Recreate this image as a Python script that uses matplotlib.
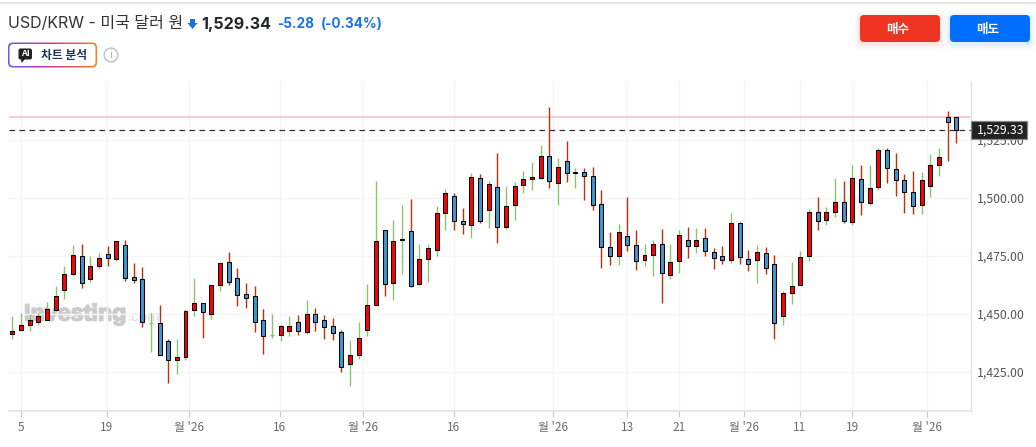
import matplotlib
matplotlib.use('Agg')
import matplotlib.pyplot as plt
from matplotlib.patches import FancyBboxPatch, Polygon, Circle, Rectangle
from matplotlib.transforms import blended_transform_factory
import matplotlib.patheffects as pe
import numpy as np

plt.rcParams['font.family'] = ['Noto Sans CJK KR', 'DejaVu Sans']

# daily USD/KRW candles
opens = [1441.3, 1443.0, 1444.9, 1446.2, 1447.4, 1451.4, 1460.4, 1467.2, 1474.7, 1464.8,
         1470.4, 1475.6, 1473.4, 1479.4, 1465.6, 1464.8, 1445.8, 1445.8, 1438.0, 1430.2,
         1431.5, 1451.4, 1454.4, 1449.7, 1462.2, 1472.1, 1465.2, 1458.3, 1457.4, 1447.1,
         1440.6, 1440.6, 1442.3, 1446.2, 1441.9, 1449.7, 1447.1, 1444.5, 1441.9, 1428.1,
         1432.0, 1442.8, 1453.6, 1485.9, 1463.0, 1481.6, 1485.5, 1462.6, 1473.4, 1477.3,
         1493.3, 1500.6, 1489.8, 1488.1, 1508.4, 1494.6, 1504.5, 1487.2, 1496.7, 1505.4,
         1508.0, 1508.4, 1517.9, 1506.2, 1515.7, 1510.5, 1511.0, 1509.2, 1497.2, 1478.6,
         1474.7, 1483.4, 1479.5, 1473.0, 1475.2, 1479.9, 1466.5, 1472.6, 1481.6, 1479.0,
         1482.5, 1476.5, 1474.7, 1473.0, 1489.0, 1473.4, 1473.0, 1476.0, 1471.3, 1448.8,
         1458.8, 1462.2, 1474.7, 1493.7, 1490.2, 1493.7, 1498.0, 1489.4, 1508.0, 1497.6,
         1504.5, 1520.4, 1512.2, 1507.5, 1502.3, 1496.7, 1504.9, 1514.0, 1534.7, 1534.7]
closes = [1442.3, 1444.9, 1447.1, 1448.8, 1451.8, 1457.4, 1466.9, 1475.1, 1463.0, 1470.4,
          1473.8, 1473.8, 1481.2, 1465.2, 1464.3, 1446.2, 1445.8, 1432.0, 1430.2, 1431.5,
          1451.0, 1454.4, 1450.5, 1462.2, 1471.7, 1463.5, 1457.9, 1456.6, 1446.2, 1440.2,
          1440.6, 1444.5, 1444.5, 1442.3, 1449.7, 1446.2, 1444.1, 1441.5, 1426.8, 1432.0,
          1439.7, 1453.6, 1481.2, 1462.6, 1481.2, 1482.0, 1461.8, 1473.4, 1478.2, 1493.3,
          1501.9, 1489.8, 1488.5, 1508.8, 1489.8, 1505.8, 1487.2, 1496.3, 1504.9, 1508.0,
          1508.8, 1517.9, 1507.1, 1513.1, 1510.5, 1511.0, 1509.2, 1496.7, 1478.6, 1474.7,
          1485.1, 1479.5, 1472.6, 1475.2, 1479.9, 1467.4, 1472.1, 1483.8, 1479.0, 1481.6,
          1476.9, 1473.9, 1473.0, 1489.0, 1474.3, 1471.3, 1476.5, 1469.5, 1445.8, 1458.8,
          1461.8, 1474.3, 1493.7, 1489.8, 1493.7, 1498.0, 1489.8, 1508.4, 1498.0, 1504.0,
          1520.4, 1512.7, 1507.5, 1502.3, 1496.3, 1507.5, 1514.0, 1517.4, 1532.5, 1529.33]
highs = [1448.9, 1450.1, 1449.7, 1450.7, 1455.0, 1461.9, 1470.5, 1479.6, 1480.0, 1474.8,
         1476.1, 1479.2, 1481.3, 1481.7, 1471.8, 1470.1, 1450.4, 1453.7, 1439.0, 1439.0,
         1452.0, 1465.3, 1454.4, 1462.2, 1472.1, 1476.6, 1469.7, 1463.2, 1461.9, 1452.0,
         1449.8, 1445.4, 1448.9, 1449.4, 1455.9, 1452.4, 1449.4, 1448.1, 1442.9, 1438.6,
         1446.4, 1462.8, 1507.2, 1485.9, 1490.4, 1496.9, 1499.5, 1480.0, 1480.0, 1496.4,
         1503.8, 1501.9, 1495.6, 1510.7, 1510.3, 1507.2, 1519.3, 1505.1, 1506.8, 1511.6,
         1515.4, 1522.8, 1539.2, 1517.2, 1524.5, 1512.9, 1512.9, 1513.3, 1503.4, 1485.2,
         1488.7, 1500.3, 1486.1, 1480.0, 1481.8, 1486.5, 1480.0, 1486.1, 1487.4, 1487.0,
         1487.0, 1478.3, 1479.2, 1493.4, 1489.4, 1477.5, 1479.6, 1478.8, 1475.3, 1459.6,
         1472.3, 1477.0, 1495.2, 1500.3, 1496.0, 1508.5, 1507.2, 1514.1, 1514.1, 1514.1,
         1521.4, 1521.4, 1519.3, 1510.2, 1511.6, 1511.1, 1518.9, 1521.4, 1537.4, 1534.7]
lows = [1439.2, 1442.6, 1442.5, 1445.1, 1447.2, 1451.1, 1456.3, 1466.2, 1461.2, 1463.8,
        1469.4, 1470.5, 1472.7, 1464.1, 1463.2, 1444.3, 1433.4, 1432.0, 1420.0, 1423.9,
        1430.0, 1449.1, 1439.5, 1447.7, 1459.7, 1462.3, 1453.3, 1452.4, 1442.1, 1432.6,
        1439.5, 1438.2, 1440.3, 1440.8, 1441.2, 1442.5, 1439.0, 1438.6, 1424.8, 1418.8,
        1430.4, 1440.3, 1453.6, 1457.6, 1455.9, 1467.1, 1461.6, 1462.2, 1463.6, 1474.8,
        1486.1, 1486.1, 1484.4, 1482.6, 1489.1, 1487.0, 1480.5, 1486.5, 1490.4, 1502.1,
        1503.4, 1508.1, 1504.2, 1496.9, 1506.8, 1504.2, 1499.0, 1494.7, 1469.7, 1471.0,
        1471.0, 1477.0, 1468.8, 1470.6, 1466.2, 1454.6, 1464.9, 1467.5, 1474.0, 1476.2,
        1474.9, 1469.3, 1471.4, 1471.8, 1471.4, 1468.4, 1463.2, 1467.1, 1439.0, 1445.1,
        1454.2, 1462.2, 1472.7, 1486.1, 1488.2, 1491.7, 1489.1, 1488.2, 1492.5, 1496.9,
        1503.4, 1506.3, 1500.7, 1493.4, 1493.0, 1493.0, 1500.3, 1509.4, 1515.9, 1523.6]

last_price = 1529.33
day_high_line = 1535.0
price_ticks = [1425, 1450, 1475, 1500, 1525]
date_pos = [0.95, 10.9, 20.4, 30.9, 40.5, 51.0, 62.4, 71.0, 77.0, 84.5, 90.9, 97.0, 105.6]
date_labels = ['5', '19', "월 '26", '16', "월 '26", '16', "월 '26", '13', '21', "월 '26", '11', '19', "월 '26"]

W, H = 1036, 447
fig = plt.figure(figsize=(W / 100, H / 100), dpi=100, facecolor='white')

# header widgets live on a pixel-sized layer behind the chart
bg = fig.add_axes([0, 0, 1, 1], zorder=0)
bg.axis('off')

# gradient border of the AI button
g = np.linspace(0, 1, 90)[:, None]
c1, c2, c3 = np.array([0.36, 0.36, 0.95]), np.array([0.85, 0.2, 0.55]), np.array([1.0, 0.5, 0.1])
rgb = np.where(g < 0.5, c1 + (c2 - c1) * g * 2, c2 + (c3 - c2) * (g - 0.5) * 2)
im = bg.imshow(rgb[None, :, :], extent=[7.5, 97.5, 68, 42], aspect='auto', zorder=1)
border = FancyBboxPatch((8, 42.5), 89, 25, boxstyle='round,pad=0,rounding_size=5', fc='none', ec='none')
bg.add_patch(border)
im.set_clip_path(border)
bg.add_patch(FancyBboxPatch((9.5, 44), 86, 22, boxstyle='round,pad=0,rounding_size=4', fc='white', ec='none', zorder=2))

bg.set_xlim(0, W)
bg.set_ylim(H, 0)

bg.plot([0, W], [2.5, 2.5], color='#e2e2e2', lw=1.2)

head_font = ['Inter', 'Noto Sans CJK KR', 'DejaVu Sans']
bg.text(8, 24, 'USD/KRW - 미국 달러 원', fontsize=11.5, color='#333333', family=head_font, va='center')
bg.add_patch(Polygon([[190, 19], [195, 19], [195, 23], [197.5, 23], [192.5, 29], [187.5, 23], [190, 23]],
                     fc='#1a6fd8', ec='none'))
bg.text(201.5, 24, '1,529.34', fontsize=11.6, color='#232526', family=head_font, fontweight='bold', va='center')
bg.text(277, 24, '-5.28', fontsize=9.8, color='#1a73e8', family=head_font, fontweight='bold', va='center')
bg.text(320.5, 24, '(-0.34%)', fontsize=9.8, color='#1a73e8', family=head_font, fontweight='bold', va='center')

# buy / sell buttons with a soft glow underneath
for x0, col, label in [(860, '#ee3524', '매수'), (950, '#006fff', '매도')]:
    for grow, alpha in [(6, 0.025), (4, 0.035), (2, 0.05)]:
        bg.add_patch(FancyBboxPatch((x0 - grow, 15 - grow + 2), 80 + 2 * grow, 27 + 2 * grow,
                                    boxstyle='round,pad=0,rounding_size=6', fc=col, ec='none', alpha=alpha))
    bg.add_patch(FancyBboxPatch((x0, 15), 80, 27, boxstyle='round,pad=0,rounding_size=4', fc=col, ec='none'))
    bg.text(x0 + 38, 29, label, color='white', fontsize=9, fontweight='bold', ha='center', va='center')

# AI badge and info icon
bg.add_patch(FancyBboxPatch((18.5, 48.5), 13.5, 11, boxstyle='round,pad=0,rounding_size=2', fc='#222222', ec='none', zorder=3))
bg.add_patch(Polygon([[21, 59], [25, 59], [21.5, 63]], fc='#222222', ec='none', zorder=3))
bg.text(25.2, 54, 'AI', color='white', fontsize=6.5, fontweight='bold', ha='center', va='center', zorder=4)
bg.text(64.5, 55, '차트 분석', color='#1c3557', fontsize=8.5, fontweight='bold', ha='center', va='center', zorder=4)
bg.add_patch(Circle((111, 55), 6.8, fc='white', ec='#c4c4c4', lw=1.1))
bg.text(111, 55, 'i', color='#b4b4b4', fontsize=8, ha='center', va='center')

# watermark
mark = bg.text(24, 314, 'Investing', color='#cbcbcb', fontsize=16.8, fontweight='bold', family='Liberation Sans', va='center')
mark.set_path_effects([pe.withStroke(linewidth=1.2, foreground='#cbcbcb')])
bg.add_patch(Rectangle((92, 303), 3.5, 3.5, fc='#fbd9a8', ec='none'))
bg.text(128, 317, '.com', color='#dddddd', fontsize=11, family='Liberation Sans', va='center')

# candles
ax = fig.add_axes([9 / W, 1 - 411 / H, (971 - 9) / W, (411 - 82) / H], zorder=1)
ax.patch.set_alpha(0)
x = np.arange(len(opens))
opens_a, closes_a = np.array(opens), np.array(closes)
highs_a, lows_a = np.array(highs), np.array(lows)
up = closes_a >= opens_a

ax.vlines(x[up], lows_a[up], highs_a[up], color='#8cc46e', lw=1.0, zorder=3)
ax.vlines(x[~up], lows_a[~up], highs_a[~up], color='#bd3008', lw=1.0, zorder=3)

flat = closes_a == opens_a
ax.hlines(closes_a[flat], x[flat] - 0.25, x[flat] + 0.25, color='#8cc46e', lw=1.0, zorder=3)

solid = ~flat
ax.bar(x[solid], (closes_a - opens_a)[solid], bottom=opens_a[solid], width=0.46,
       color=np.where(up[solid], '#ff0000', '#3f94d2'), edgecolor='black', linewidth=0.75, zorder=4)

ax.set_xlim(-0.38, 110.7)
ax.set_ylim(1408.0, 1549.9)

ax.grid(True, color='#f4f5f8', lw=1.0, zorder=0)
ax.set_axisbelow(True)
ax.axhline(day_high_line, color='#fbc8c8', lw=1.3, zorder=2)
ax.axhline(last_price, color='#333333', lw=0.9, dashes=(4.5, 3.5), zorder=2)

ax.set_xticks(date_pos)
ax.set_xticklabels(date_labels)
ax.yaxis.tick_right()
ax.set_yticks(price_ticks)
ax.set_yticklabels([f'{p:,.2f}' for p in price_ticks])
ax.tick_params(axis='x', length=4, width=0.8, color='#c8ccd6', labelsize=8.5, labelcolor='#6b6b6b', pad=3)
ax.tick_params(axis='y', length=0, labelsize=8.8, labelcolor='#555555', pad=4)

for side in ['top', 'left']:
    ax.spines[side].set_visible(False)
ax.spines['right'].set_color('#e0e3eb')
ax.spines['bottom'].set_color('#e0e3eb')
ax.spines['bottom'].set_linewidth(1.2)
ax.spines['right'].set_linewidth(1.0)

# last price tag on the price scale
tag_trans = blended_transform_factory(ax.transAxes, ax.transData)
ax.add_patch(Rectangle((1.0005, last_price - 3.9), 56 / 962, 7.8, transform=tag_trans, fc='#222222', ec='#888888',
                       lw=0.9, clip_on=False, zorder=9))
ax.annotate(f'{last_price:,.2f}', xy=(1, last_price), xycoords=('axes fraction', 'data'),
            xytext=(4.2, 0), textcoords='offset points', ha='left', va='center', color='white', fontsize=8.8,
            zorder=10, annotation_clip=False)

fig.savefig('out.png', dpi=100, facecolor='white')
